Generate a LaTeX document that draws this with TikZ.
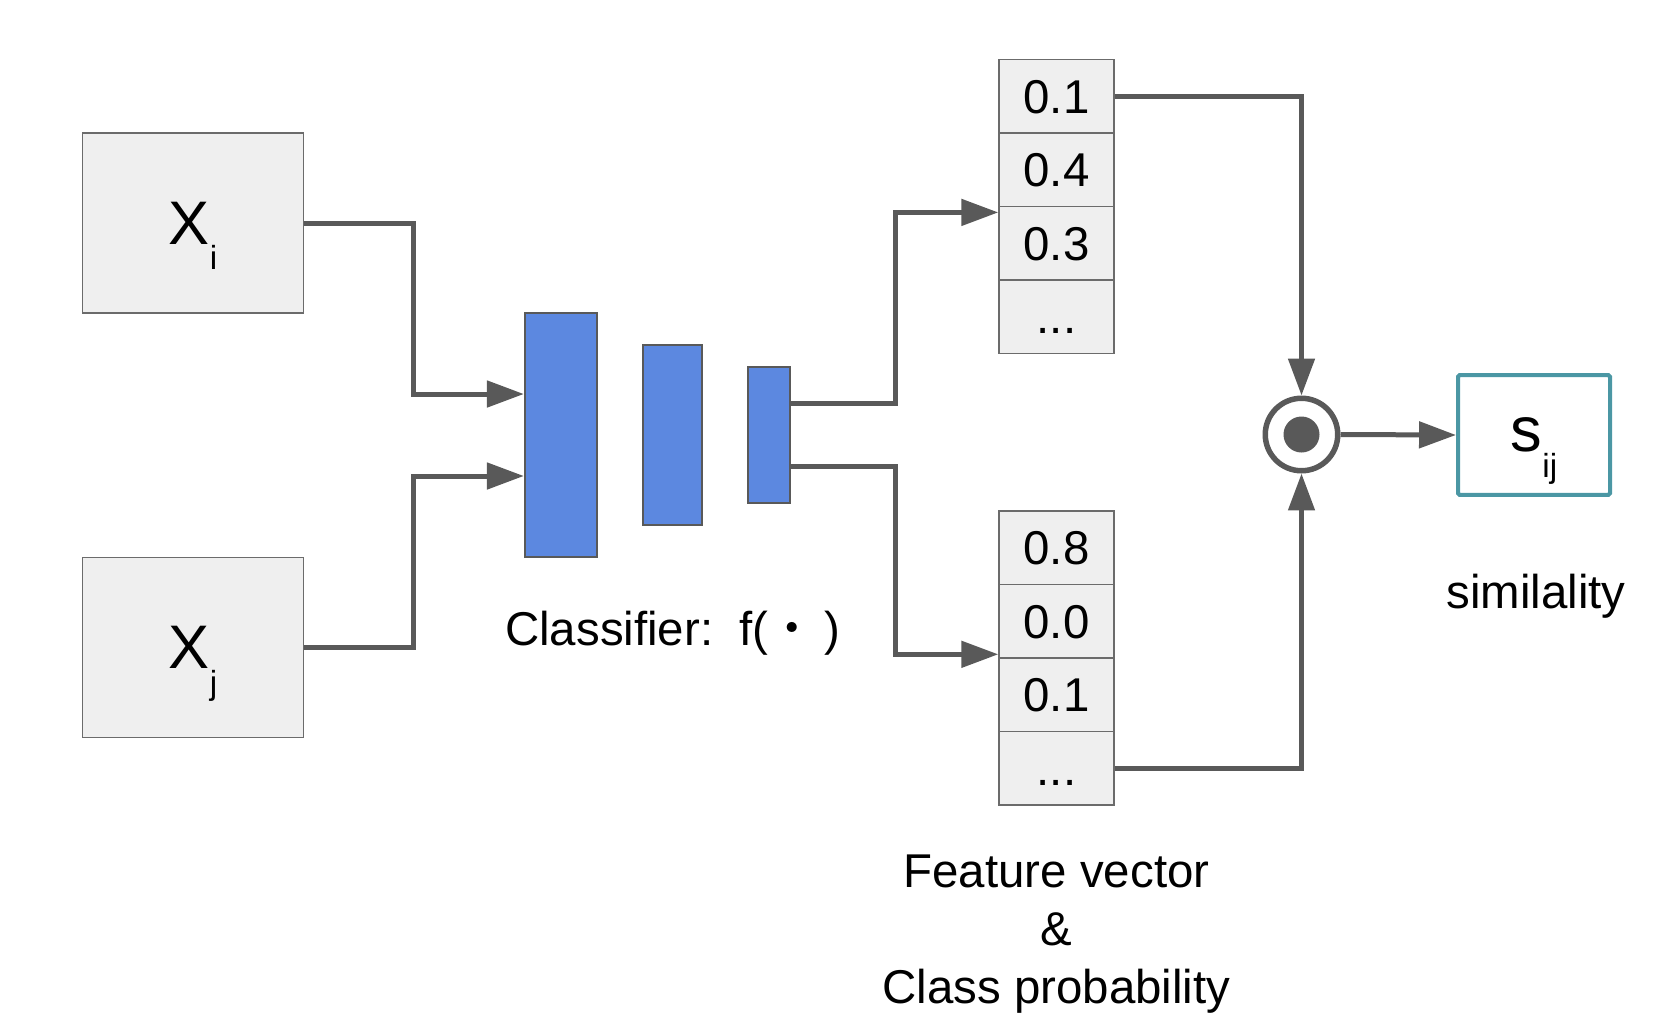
\documentclass[tikz,border=0pt]{standalone}
\usepackage{fontspec}
\setmainfont{Liberation Sans}
\newfontfamily\cjk{Noto Sans CJK JP}
\usepackage{tikz}
\usepackage{xcolor}
\usetikzlibrary{positioning, arrows.meta}
\definecolor{linegray}{HTML}{595959}
\definecolor{boxgray}{HTML}{EFEFEF}
\definecolor{edgegray}{HTML}{6B6B6B}
\definecolor{layerblue}{HTML}{5C88E0}
\definecolor{simteal}{HTML}{4B97A4}
\newcommand{\lowsub}[1]{\raisebox{-14.5pt}[0pt][0pt]{\fontsize{19}{19}\selectfont #1}}

\begin{document}
\begin{tikzpicture}[x=0.02cm, y=-0.02cm,
            inbox/.style={rectangle, draw=edgegray, fill=boxgray, line width=0.8pt, minimum width=4.41cm, minimum height=3.6cm, inner sep=0pt, font=\fontsize{35}{35}\selectfont},
            layer/.style={rectangle, draw=linegray, fill=layerblue, line width=1pt, inner sep=0pt},
            cell/.style={rectangle, draw=edgegray, fill=boxgray, line width=0.8pt, minimum width=2.3cm, minimum height=1.47cm, inner sep=0pt, text height=19.5pt, text depth=0pt, font=\fontsize{27}{27}\selectfont},
            conn/.style={draw=linegray, line width=0.1cm, -{Triangle[length=0.74cm, width=0.52cm]}},
            txt/.style={font=\fontsize{27}{33}\selectfont, align=center}]
            \useasboundingbox (0,0) rectangle (1670,1032);

            \node[inbox] (xi) at (193, 223) {X\lowsub{i}};
            \node[inbox] (xj) at (193, 647.5) {X\lowsub{j}};

            \node[layer, minimum width=1.45cm, minimum height=4.88cm] (l1) at (561, 435) {};
            \node[layer, minimum width=1.18cm, minimum height=3.6cm] (l2) at (672.5, 435) {};
            \node[layer, minimum width=0.84cm, minimum height=2.72cm] (l3) at (769, 435) {};
            \node[txt] (clf) at (672.5, 633) {Classifier:\ \ f({\cjk ・}\,)};

            \node[cell] (fa1) at (1056.5, 96.35) {0.1};
            \node[cell] (fa2) at (1056.5, 169.85) {0.4};
            \node[cell] (fa3) at (1056.5, 243.35) {0.3};
            \node[cell] (fa4) at (1056.5, 316.85) {...};
            \node[cell] (fb1) at (1056.5, 547.75) {0.8};
            \node[cell] (fb2) at (1056.5, 621.25) {0.0};
            \node[cell] (fb3) at (1056.5, 694.75) {0.1};
            \node[cell] (fb4) at (1056.5, 768.25) {...};
            \node[txt] (feat) at (1056.5, 934) {Feature vector\\\&\\Class probability};

            \node[circle, draw=linegray, fill=white, line width=0.11cm, minimum size=1.45cm, inner sep=0pt, path picture={\fill[linegray] (path picture bounding box.center) circle (0.36cm);}] (dot) at (1301.5, 434.5) {};
            \node[rectangle, draw=simteal, line width=0.08cm, rounded corners=1pt, minimum width=3.04cm, minimum height=2.4cm, inner sep=0pt, font=\fontsize{36}{36}\selectfont] (sij) at (1534, 435) {s\lowsub{ij}};
            \node[txt] (sim) at (1536, 596) {similality};

            \draw[conn] (xi.east) -- ++(109.5,0) |- ([yshift=0.82cm]l1.west);
            \draw[conn] (xj.east) -- ++(109.5,0) |- ([yshift=-0.82cm]l1.west);
            \draw[conn] ([yshift=0.63cm]l3.east) -- ++(104.6,0) |- ([yshift=-0.13cm]fa3.north west);
            \draw[conn] ([yshift=-0.63cm]l3.east) -- ++(104.6,0) |- ([yshift=0.06cm]fb3.north west);
            \draw[conn] (fa1.east) -| (dot.north);
            \draw[conn] (fb4.east) -| (dot.south);
            \draw[conn] (dot.east) -- (sij.west);
        \end{tikzpicture}
\end{document}
